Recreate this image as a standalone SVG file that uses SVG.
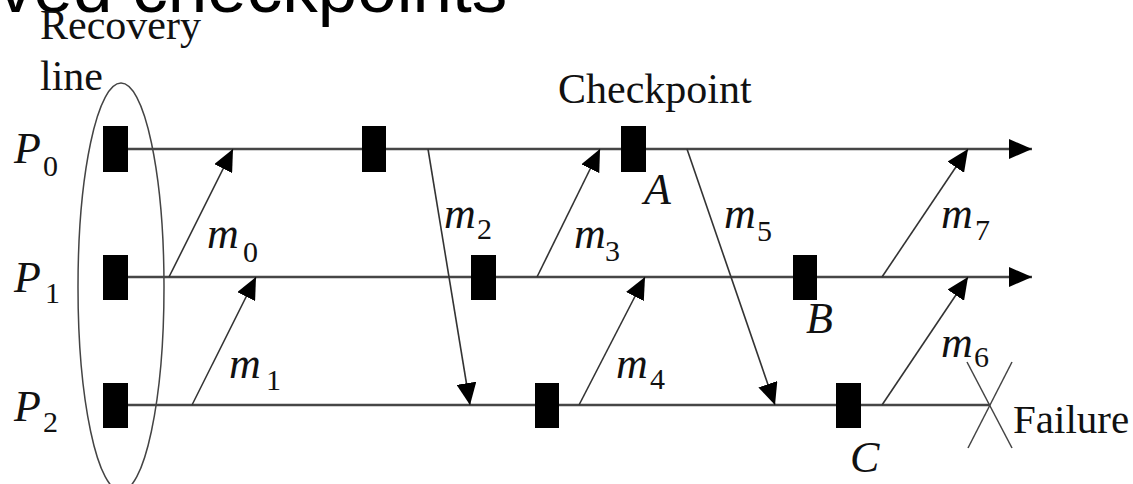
<svg xmlns="http://www.w3.org/2000/svg" width="1133" height="484" viewBox="0 0 1133 484">
<defs>
<marker id="ah" viewBox="0 0 22 20" refX="22" refY="10" markerWidth="22" markerHeight="20" markerUnits="userSpaceOnUse" orient="auto"><path d="M0,0 L22,10 L0,20 z" fill="#000"/></marker>
<marker id="ahp" viewBox="0 0 23 20" refX="23" refY="10" markerWidth="23" markerHeight="20" markerUnits="userSpaceOnUse" orient="auto"><path d="M0,0 L23,10 L0,20 z" fill="#000"/></marker>
</defs>
<style>
.t{font-family:"Liberation Serif","Times New Roman",serif;fill:#111}
.i{font-style:italic}
.lbl{font-size:44px}
.sub{font-size:30px;font-style:normal}
.proc{stroke:#464646;stroke-width:2.7;fill:none}
.msg{stroke:#333;stroke-width:1.6;fill:none}
.ck{fill:#000}
</style>
<rect width="1133" height="484" fill="#fff"/>
<text x="-2" y="12" style="font-family:'Liberation Sans',Arial,sans-serif;font-size:71px;fill:#000">ved checkpoints</text>
<g id="recovery-line">
<ellipse cx="121" cy="287" rx="43" ry="204" fill="none" stroke="#444" stroke-width="1.5"/>
<text class="t" x="40" y="39" font-size="42">Recovery</text>
<text class="t" x="40" y="90" font-size="42">line</text>
</g>
<g id="checkpoint-label"><text class="t" x="558" y="103" font-size="42">Checkpoint</text></g>
<g id="P0">
<text class="t i lbl" x="14" y="163">P<tspan class="sub" x="43" y="176">0</tspan></text>
<line class="proc" x1="115" y1="149" x2="1032" y2="149" marker-end="url(#ahp)"/>
<rect class="ck" x="103" y="126" width="25" height="46"/>
<rect class="ck" x="362" y="126" width="24" height="46"/>
<rect class="ck" x="621" y="126" width="25" height="46"/>
<text class="t i lbl" x="644" y="204">A</text>
</g>
<g id="P1">
<text class="t i lbl" x="14" y="292">P<tspan class="sub" x="45" y="303">1</tspan></text>
<line class="proc" x1="115" y1="277" x2="1032" y2="277" marker-end="url(#ahp)"/>
<rect class="ck" x="103" y="255" width="25" height="45"/>
<rect class="ck" x="471" y="255" width="25" height="45"/>
<rect class="ck" x="793" y="255" width="24" height="45"/>
<text class="t i lbl" x="806" y="333">B</text>
</g>
<g id="P2">
<text class="t i lbl" x="14" y="421">P<tspan class="sub" x="43" y="432">2</tspan></text>
<line class="proc" x1="115" y1="405" x2="990" y2="405"/>
<rect class="ck" x="103" y="383" width="25" height="45"/>
<rect class="ck" x="535" y="383" width="24" height="45"/>
<rect class="ck" x="836" y="383" width="25" height="45"/>
<text class="t i lbl" x="850" y="472">C</text>
</g>
<g id="failure">
<line x1="967" y1="362" x2="1012" y2="448" stroke="#444" stroke-width="1.5"/>
<line x1="1012" y1="362" x2="968" y2="448" stroke="#444" stroke-width="1.5"/>
<text class="t" x="1013" y="433" font-size="41">Failure</text>
</g>
<g id="messages">
<line class="msg" x1="169" y1="277" x2="233" y2="149" marker-end="url(#ah)"/>
<line class="msg" x1="192" y1="405" x2="256" y2="277" marker-end="url(#ah)"/>
<line class="msg" x1="428" y1="149" x2="470" y2="405" marker-end="url(#ah)"/>
<line class="msg" x1="537" y1="277" x2="600" y2="149" marker-end="url(#ah)"/>
<line class="msg" x1="579" y1="405" x2="645" y2="277" marker-end="url(#ah)"/>
<line class="msg" x1="687" y1="149" x2="775" y2="405" marker-end="url(#ah)"/>
<line class="msg" x1="882" y1="405" x2="968" y2="277" marker-end="url(#ah)"/>
<line class="msg" x1="882" y1="277" x2="968" y2="149" marker-end="url(#ah)"/>
</g>
<g id="message-labels">
<text class="t i lbl" x="207" y="248">m<tspan class="sub" x="243" y="262">0</tspan></text>
<text class="t i lbl" x="229" y="378">m<tspan class="sub" x="266" y="390">1</tspan></text>
<text class="t i lbl" x="444" y="228">m<tspan class="sub" x="477" y="239">2</tspan></text>
<text class="t i lbl" x="574" y="248">m<tspan class="sub" x="605" y="261">3</tspan></text>
<text class="t i lbl" x="616" y="378">m<tspan class="sub" x="650" y="389">4</tspan></text>
<text class="t i lbl" x="724" y="228">m<tspan class="sub" x="757" y="241">5</tspan></text>
<text class="t i lbl" x="941" y="357">m<tspan class="sub" x="974" y="367">6</tspan></text>
<text class="t i lbl" x="941" y="228">m<tspan class="sub" x="975" y="240">7</tspan></text>
</g>
</svg>
